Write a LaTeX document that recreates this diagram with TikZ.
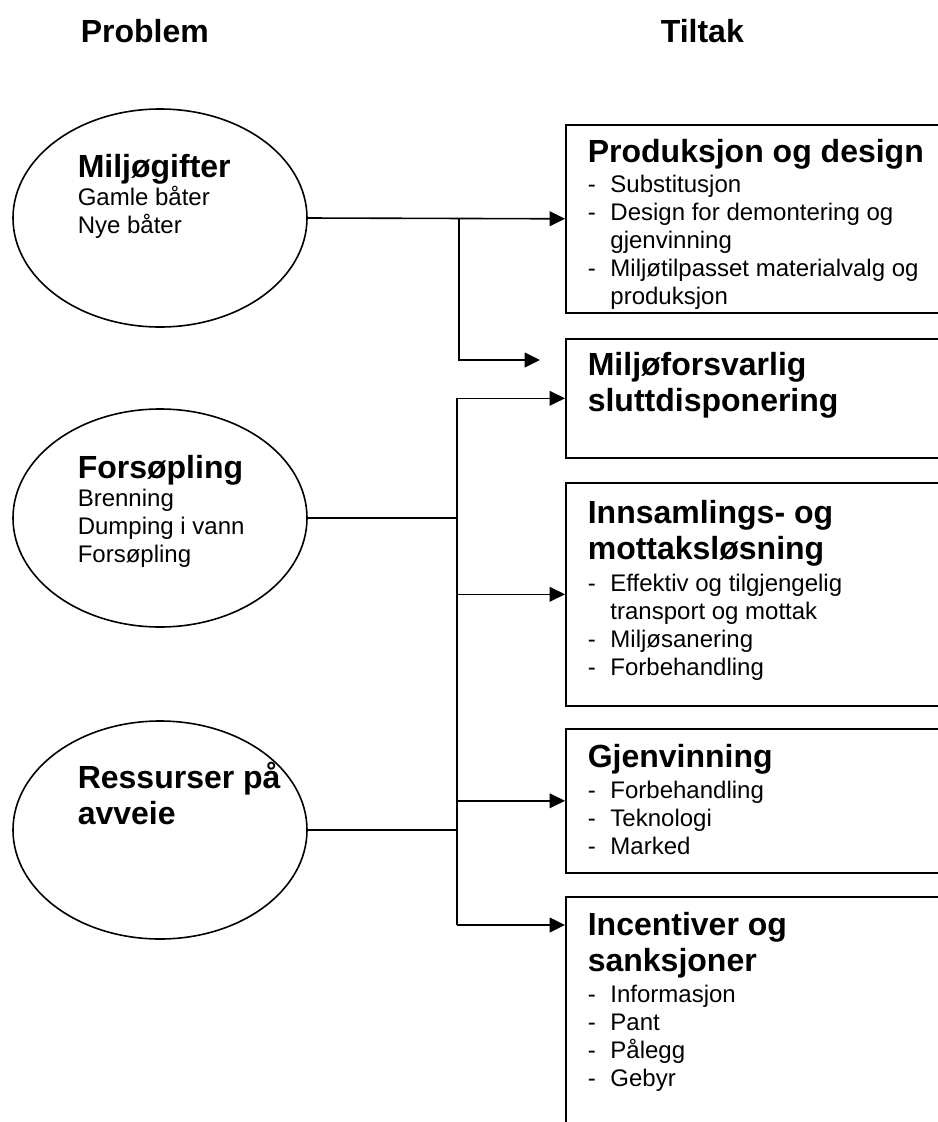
\documentclass[tikz,border=0pt]{standalone}
\usepackage{fontspec}
\setmainfont{Liberation Sans}
\usetikzlibrary{arrows.meta,shapes.geometric}

\newcommand{\tittel}{\fontsize{24}{27.5}\selectfont\bfseries}
\newcommand{\brod}{\fontsize{18}{21}\selectfont\mdseries}
\newcommand{\punkt}[1]{\par\hangindent=17pt\hangafter=1\noindent\makebox[17pt][l]{-}#1}
\newcommand{\innhold}[1]{\parbox[t]{400pt}{\raggedright #1}}

\begin{document}
\begin{tikzpicture}[x=0.75pt, y=-0.75pt, line width=1.2pt,
    problem/.style ={ellipse, draw, minimum width=220.5pt, minimum height=163.5pt, inner sep=0pt},
    tiltak/.style ={rectangle, draw, anchor=north west, minimum width=300pt, inner sep=0pt},
    tekst/.style ={anchor=base west, inner sep=0pt},
    pil/.style ={-{Triangle[length=11.5pt, width=11pt]}}]
   \clip (0,0) rectangle (938,1122);

   % overskrifter
   \node[tekst] (probl) at (80,42)  {\tittel Problem};
   \node[tekst] (tilt)  at (660,42) {\tittel Tiltak};

   % problemer
   \node[problem] (miljo)   at (160,218) {};
   \node[problem] (forsop)  at (160,518) {};
   \node[problem] (ressurs) at (160,830) {};
   \node[tekst] (miljotxt)   at (77,177) {\innhold{\tittel Miljøgifter\par\brod Gamle båter\par Nye båter}};
   \node[tekst] (forsoptxt)  at (77,478) {\innhold{\tittel Forsøpling\par\brod Brenning\par Dumping i vann\par Forsøpling}};
   \node[tekst] (ressurstxt) at (77,788) {\innhold{\tittel Ressurser på\\avveie}};

   % tiltak
   \node[tiltak, minimum height=141pt]    (prod)    at (565,124) {};
   \node[tiltak, minimum height=89.25pt]  (slutt)   at (565,338) {};
   \node[tiltak, minimum height=167.25pt] (innsaml) at (565,482) {};
   \node[tiltak, minimum height=108pt]    (gjenv)   at (565,728) {};
   \node[tiltak, minimum height=225pt]    (insent)  at (565,896) {};

   \node[tekst] (prodtxt) at (587,162) {\innhold{\tittel Produksjon og design\par\vspace{1.5pt}\brod
      \punkt{Substitusjon}\punkt{Design for demontering og\newline gjenvinning}\punkt{Miljøtilpasset materialvalg og\newline produksjon}}};
   \node[tekst] (slutttxt) at (587,375) {\innhold{\tittel Miljøforsvarlig\\sluttdisponering}};
   \node[tekst] (innsamltxt) at (587,523) {\innhold{\tittel Innsamlings- og\\mottaksløsning\par\vspace{2.5pt}\brod
      \punkt{Effektiv og tilgjengelig\newline transport og mottak}\punkt{Miljøsanering}\punkt{Forbehandling}}};
   \node[tekst] (gjenvtxt) at (587,767) {\innhold{\tittel Gjenvinning\par\vspace{2.5pt}\brod
      \punkt{Forbehandling}\punkt{Teknologi}\punkt{Marked}}};
   \node[tekst] (insenttxt) at (587,935) {\innhold{\tittel Incentiver og\\sanksjoner\par\vspace{2pt}\brod
      \punkt{Informasjon}\punkt{Pant}\punkt{Pålegg}\punkt{Gebyr}}};

   % forbindelser
   \coordinate (gren) at (459,218);
   \coordinate (pilende) at (540,360);
   \coordinate (bunn) at (457,925);

   \draw[pil] (miljo.east) -- (prod.west);
   \draw[pil] (gren) |- (pilende);

   \draw[pil] (bunn) |- (slutt.west);
   \draw (forsop.east) -- (forsop.east -| bunn);
   \draw (ressurs.east) -- (ressurs.east -| bunn);
   \draw[pil] (innsaml.west -| bunn) -- (innsaml.west);
   \draw[pil] (gjenv.west -| bunn) -- (gjenv.west);
   \draw[pil] (bunn) -- (bunn -| insent.west);

\end{tikzpicture}
\end{document}
